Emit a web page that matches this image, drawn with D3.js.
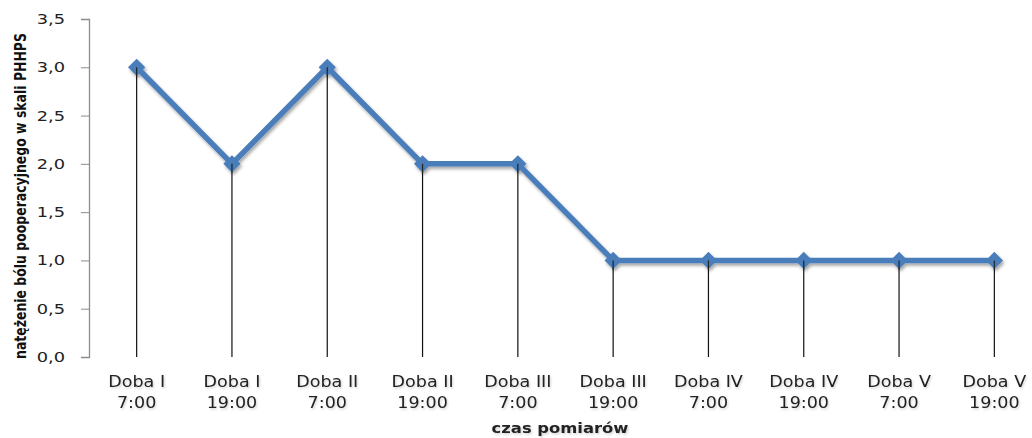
<!DOCTYPE html>
<html>
<head>
<meta charset="utf-8">
<script src="https://cdn.jsdelivr.net/npm/d3@7"></script>
<style>
  html, body { margin: 0; padding: 0; background: #fff; }
  svg { display: block; }
</style>
</head>
<body>
<svg id="chart" width="1032" height="438"></svg>
<script>
// Pain intensity measurements (PHHPS scale)
const days = ["Doba I", "Doba I", "Doba II", "Doba II", "Doba III", "Doba III", "Doba IV", "Doba IV", "Doba V", "Doba V"];
const hours = ["7:00", "19:00", "7:00", "19:00", "7:00", "19:00", "7:00", "19:00", "7:00", "19:00"];
const painValues = [3.0, 2.0, 3.0, 2.0, 2.0, 1.0, 1.0, 1.0, 1.0, 1.0];
const yTicks = [0, 0.5, 1.0, 1.5, 2.0, 2.5, 3.0, 3.5];

const svg = d3.select("#chart");
const margin = { left: 89, top: 19, bottom: 357 };
const step = 95.3;
const ids = d3.range(painValues.length);
const labelFont = "DejaVu Sans, Verdana, sans-serif";
const wide = 1.17; // horizontal widening of label glyphs

const x = d3.scaleBand().domain(ids).range([margin.left, margin.left + step * ids.length]).padding(0);
const y = d3.scaleLinear().domain([0, 3.5]).range([margin.bottom, margin.top]);
const cx = i => x(i) + x.bandwidth() / 2;

const defs = svg.append("defs");
const sh = defs.append("filter").attr("id", "shadow").attr("x", "-10%").attr("y", "-20%").attr("width", "120%").attr("height", "160%");
sh.append("feDropShadow").attr("dx", 1.5).attr("dy", 2.5).attr("stdDeviation", 1.8).attr("flood-color", "#000").attr("flood-opacity", 0.35);
const ts = defs.append("filter").attr("id", "tshadow").attr("x", "-10%").attr("y", "-30%").attr("width", "120%").attr("height", "170%");
ts.append("feDropShadow").attr("dx", 1).attr("dy", 1.5).attr("stdDeviation", 1).attr("flood-color", "#000").attr("flood-opacity", 0.18);

// Y axis
const yAxis = svg.append("g").attr("transform", `translate(${margin.left},0)`)
  .call(d3.axisLeft(y).tickValues(yTicks).tickSize(8)
    .tickFormat(d => d3.format(".1f")(d).replace(".", ",")));
yAxis.select(".domain").attr("stroke", "#8c8c8c").attr("stroke-width", 1.3);
yAxis.selectAll(".tick line").attr("stroke", "#8c8c8c");
yAxis.selectAll(".tick text")
  .attr("x", 0).attr("transform", "translate(-24,0) scale(1.27,1)")
  .attr("font-family", labelFont).attr("font-size", 14).attr("fill", "#222");

// Drop lines from each point to the axis
svg.append("g").selectAll("line").data(ids).join("line")
  .attr("x1", cx).attr("x2", cx)
  .attr("y1", i => y(painValues[i])).attr("y2", y(0))
  .attr("stroke", "#111").attr("stroke-width", 1.2);

// X axis line
svg.append("line")
  .attr("x1", margin.left).attr("x2", 1032).attr("y1", y(0)).attr("y2", y(0))
  .attr("stroke", "#8c8c8c").attr("stroke-width", 2).attr("filter", "url(#shadow)");

// X category labels (two lines)
const xl = svg.append("g").attr("filter", "url(#tshadow)").selectAll("text").data(ids).join("text")
  .attr("transform", i => `translate(${cx(i)},387) scale(${wide},1)`)
  .attr("text-anchor", "middle")
  .attr("font-family", labelFont).attr("font-size", 15).attr("fill", "#222");
xl.append("tspan").attr("x", 0).text(i => days[i]);
xl.append("tspan").attr("x", 0).attr("dy", 21).text(i => hours[i]);

// Series line
const line = d3.line().x(i => cx(i)).y(i => y(painValues[i]));
const series = svg.append("g").attr("filter", "url(#shadow)");
series.append("path").datum(ids).attr("d", line)
  .attr("fill", "none").attr("stroke", "#4a7ebb").attr("stroke-width", 5.5).attr("stroke-linejoin", "round");
series.selectAll("path.m").data(ids).join("path").attr("class", "m")
  .attr("transform", i => `translate(${cx(i)},${y(painValues[i])})`)
  .attr("d", d3.symbol().type(d3.symbolDiamond2).size(190))
  .attr("fill", "#4a7ebb");

// Drop line continuation over markers' centre
svg.append("g").selectAll("line").data(ids).join("line")
  .attr("x1", cx).attr("x2", cx)
  .attr("y1", i => y(painValues[i])).attr("y2", i => y(painValues[i]) + 9)
  .attr("stroke", "#222").attr("stroke-width", 1.2);

// Axis titles
svg.append("text")
  .attr("transform", `translate(26,${196}) rotate(-90) scale(0.84,1)`)
  .attr("text-anchor", "middle")
  .attr("font-family", "DejaVu Sans Condensed, DejaVu Sans, sans-serif")
  .attr("font-stretch", "condensed")
  .attr("font-weight", "bold")
  .attr("font-size", 16.5).attr("fill", "#111")
  .text("natężenie bólu pooperacyjnego w skali PHHPS");

svg.append("text")
  .attr("transform", `translate(560,433) scale(${wide},1)`)
  .attr("text-anchor", "middle")
  .attr("font-family", labelFont).attr("font-weight", "bold")
  .attr("font-size", 14).attr("fill", "#222")
  .attr("filter", "url(#tshadow)")
  .text("czas pomiarów");
</script>
</body>
</html>
